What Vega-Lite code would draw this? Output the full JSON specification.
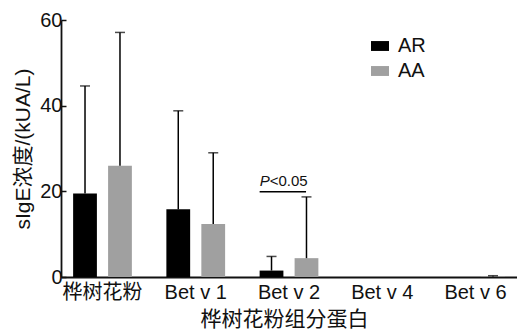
{
  "$schema": "https://vega.github.io/schema/vega-lite/v6.json",
  "width": 456,
  "height": 257,
  "autosize": {"type": "none"},
  "padding": {"left": 61, "top": 20, "right": 0, "bottom": 52},
  "background": "white",
  "config": {
    "view": {"stroke": null},
    "font": "Liberation Sans",
    "axis": {"grid": false, "domainColor": "#111", "domainWidth": 1.8, "tickColor": "#111", "tickWidth": 1.5, "labelColor": "#111", "titleColor": "#111", "labelFont": "Liberation Sans, Noto Sans CJK SC", "titleFont": "Liberation Sans, Noto Sans CJK SC", "titleFontWeight": "normal"}
  },
  "data": {
    "values": [
      {"cat": "桦树花粉", "group": "AR", "value": 19.5, "upper": 44.6},
      {"cat": "桦树花粉", "group": "AA", "value": 26.0, "upper": 57.1},
      {"cat": "Bet v 1", "group": "AR", "value": 15.8, "upper": 38.8},
      {"cat": "Bet v 1", "group": "AA", "value": 12.4, "upper": 29.0},
      {"cat": "Bet v 2", "group": "AR", "value": 1.5, "upper": 4.8},
      {"cat": "Bet v 2", "group": "AA", "value": 4.4, "upper": 18.7},
      {"cat": "Bet v 4", "group": "AR", "value": 0, "upper": null},
      {"cat": "Bet v 4", "group": "AA", "value": 0, "upper": null},
      {"cat": "Bet v 6", "group": "AR", "value": 0, "upper": null},
      {"cat": "Bet v 6", "group": "AA", "value": 0.1, "upper": 0.3}
    ]
  },
  "encoding": {
    "x": {
      "field": "cat", "type": "nominal",
      "sort": ["桦树花粉", "Bet v 1", "Bet v 2", "Bet v 4", "Bet v 6"],
      "scale": {"paddingInner": 0.37, "paddingOuter": 0.13},
      "axis": {"labelAngle": 0, "ticks": false, "labelFontSize": 20, "labelPadding": 5, "title": "桦树花粉组分蛋白", "titleFontSize": 21, "titlePadding": 6, "titleX": 223}
    },
    "xOffset": {
      "field": "group", "type": "nominal", "sort": ["AR", "AA"],
      "scale": {"paddingInner": 0.32, "paddingOuter": 0}
    }
  },
  "layer": [
    {
      "mark": {"type": "bar"},
      "encoding": {
        "y": {
          "field": "value", "type": "quantitative",
          "scale": {"domain": [0, 60]},
          "axis": {"values": [0, 20, 40, 60], "tickSize": -5, "labelFontSize": 20, "labelPadding": 4, "title": "sIgE浓度/(kUA/L)", "titleFontSize": 21, "titlePadding": 6}
        },
        "color": {
          "field": "group", "type": "nominal",
          "scale": {"domain": ["AR", "AA"], "range": ["#000000", "#a0a0a0"]},
          "legend": {
            "title": null, "orient": "none", "legendX": 309, "legendY": 16,
            "labelFontSize": 20, "labelFont": "Liberation Sans", "labelColor": "#111",
            "symbolType": "M-2,-1.1H2V1.1H-2Z", "symbolSize": 81, "symbolStrokeWidth": 0,
            "rowPadding": 5, "labelOffset": 8
          }
        }
      }
    },
    {
      "mark": {"type": "rule", "color": "#000", "strokeWidth": 1.5},
      "encoding": {
        "y": {"field": "value", "type": "quantitative"},
        "y2": {"field": "upper"}
      }
    },
    {
      "mark": {"type": "tick", "color": "#000", "thickness": 1.5, "size": 10, "orient": "horizontal"},
      "encoding": {
        "y": {"field": "upper", "type": "quantitative"}
      }
    },
    {
      "data": {"values": [{"cat": "Bet v 2", "y": 19.9, "p": "P", "rest": "<0.05"}]},
      "encoding": {"xOffset": null},
      "layer": [
        {
          "mark": {"type": "rule", "color": "#000", "strokeWidth": 1.5},
          "encoding": {
            "x": {"field": "cat", "type": "nominal", "bandPosition": 0},
            "x2": {"field": "cat", "bandPosition": 0.79},
            "y": {"field": "y", "type": "quantitative"}
          }
        },
        {
          "mark": {"type": "text", "align": "left", "baseline": "bottom", "fontSize": 15, "fontStyle": "italic", "dy": -3, "color": "#111"},
          "encoding": {
            "x": {"field": "cat", "type": "nominal", "bandPosition": 0},
            "y": {"field": "y", "type": "quantitative"},
            "text": {"field": "p"}
          }
        },
        {
          "mark": {"type": "text", "align": "left", "baseline": "bottom", "fontSize": 15, "dy": -3, "dx": 10, "color": "#111"},
          "encoding": {
            "x": {"field": "cat", "type": "nominal", "bandPosition": 0},
            "y": {"field": "y", "type": "quantitative"},
            "text": {"field": "rest"}
          }
        }
      ]
    }
  ]
}
